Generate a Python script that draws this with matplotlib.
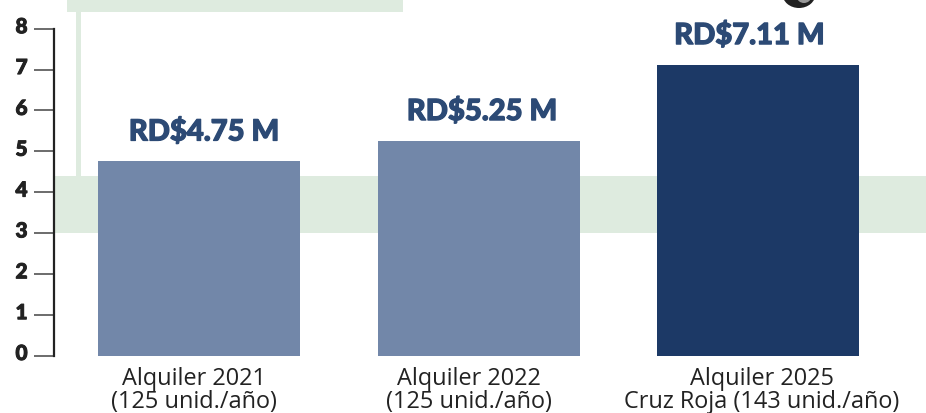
import matplotlib
matplotlib.use("Agg")
import matplotlib.pyplot as plt
import matplotlib.patheffects as pe
from matplotlib.patches import Rectangle, Ellipse
from matplotlib.transforms import ScaledTranslation

categories = ["Alquiler 2021\n(125 unid./año)", "Alquiler 2022\n(125 unid./año)", "Alquiler 2025\nCruz Roja (143 unid./año)"]
values = [4.75, 5.25, 7.11]
value_labels = ["RD$4.75 M", "RD$5.25 M", "RD$7.11 M"]
bar_colors = ["#7287A9", "#7287A9", "#1C3966"]
y_ticks = [0, 1, 2, 3, 4, 5, 6, 7, 8]

# label nudges in pixels, the original labels are not centred on the bars
value_dx = [5, 3.5, -8.5]
cat_dx = [-5, -10, 3.5]

W, H = 926, 413
green = "#DEEBDF"
plt.rcParams["font.family"] = ["Lato", "DejaVu Sans"]

fig = plt.figure(figsize=(W / 100, H / 100), dpi=100)
ax = fig.add_axes([54 / W, (H - 355.5) / H, (W - 54) / W, 355.5 / H])
ax.set_xlim((54 - 199) / 279.5, (926 - 199) / 279.5)
ax.set_ylim(0, 355.5 / 40.85)

# green decoration behind the bars
ax.axhspan(3, 4.4, color=green, lw=0, zorder=0)
fig.add_artist(Rectangle((67 / W, (H - 12) / H), 336 / W, 12 / H, transform=fig.transFigure, color=green, lw=0, zorder=0))
fig.add_artist(Rectangle((76 / W, (H - 176) / H), 5 / W, 164 / H, transform=fig.transFigure, color=green, lw=0, zorder=0))

# bit of the tire at the top
fig.add_artist(Ellipse((799 / W, (H + 6) / H), 33 / W, 28 / H, transform=fig.transFigure, color="#222222", lw=0))
fig.add_artist(Ellipse((804 / W, (H + 3) / H), 14 / W, 12 / H, transform=fig.transFigure, color="#999999", lw=0))

ax.bar(range(3), values, width=202 / 279.5, color=bar_colors, zorder=2)

thick = [pe.withStroke(linewidth=0.9, foreground="#2C4A75")]
for i in range(3):
    ax.annotate(value_labels[i], (i, values[i]), xytext=(value_dx[i] * 0.72, 11.5), textcoords="offset points",
                ha="center", va="bottom", fontsize=21, fontweight="black", color="#2C4A75", path_effects=thick)
    ax.annotate(categories[i], (i, 0), xytext=(cat_dx[i] * 0.72, -8), textcoords="offset points",
                ha="center", va="top", fontsize=16.9, color="#222222", linespacing=0.98, family="Open Sans",
                annotation_clip=False)

ax.set_xticks([])
ax.set_yticks(y_ticks)
ax.set_yticklabels([str(t) for t in y_ticks], fontsize=15, fontweight="black", color="#222222")
ax.tick_params(axis="y", length=14.5, width=1.1, color="#444444", pad=4.5)
shift = ScaledTranslation(0, 2.5 / 72, fig.dpi_scale_trans)
for lab in ax.get_yticklabels():
    lab.set_transform(lab.get_transform() + shift)
    lab.set_path_effects([pe.withStroke(linewidth=0.7, foreground="#222222")])
for s in ["top", "right", "bottom"]:
    ax.spines[s].set_visible(False)
ax.spines["left"].set_bounds(0, 8)
ax.spines["left"].set_linewidth(1.6)
ax.spines["left"].set_color("#222222")
ax.patch.set_alpha(0)

fig.savefig("out.png", dpi=100)
